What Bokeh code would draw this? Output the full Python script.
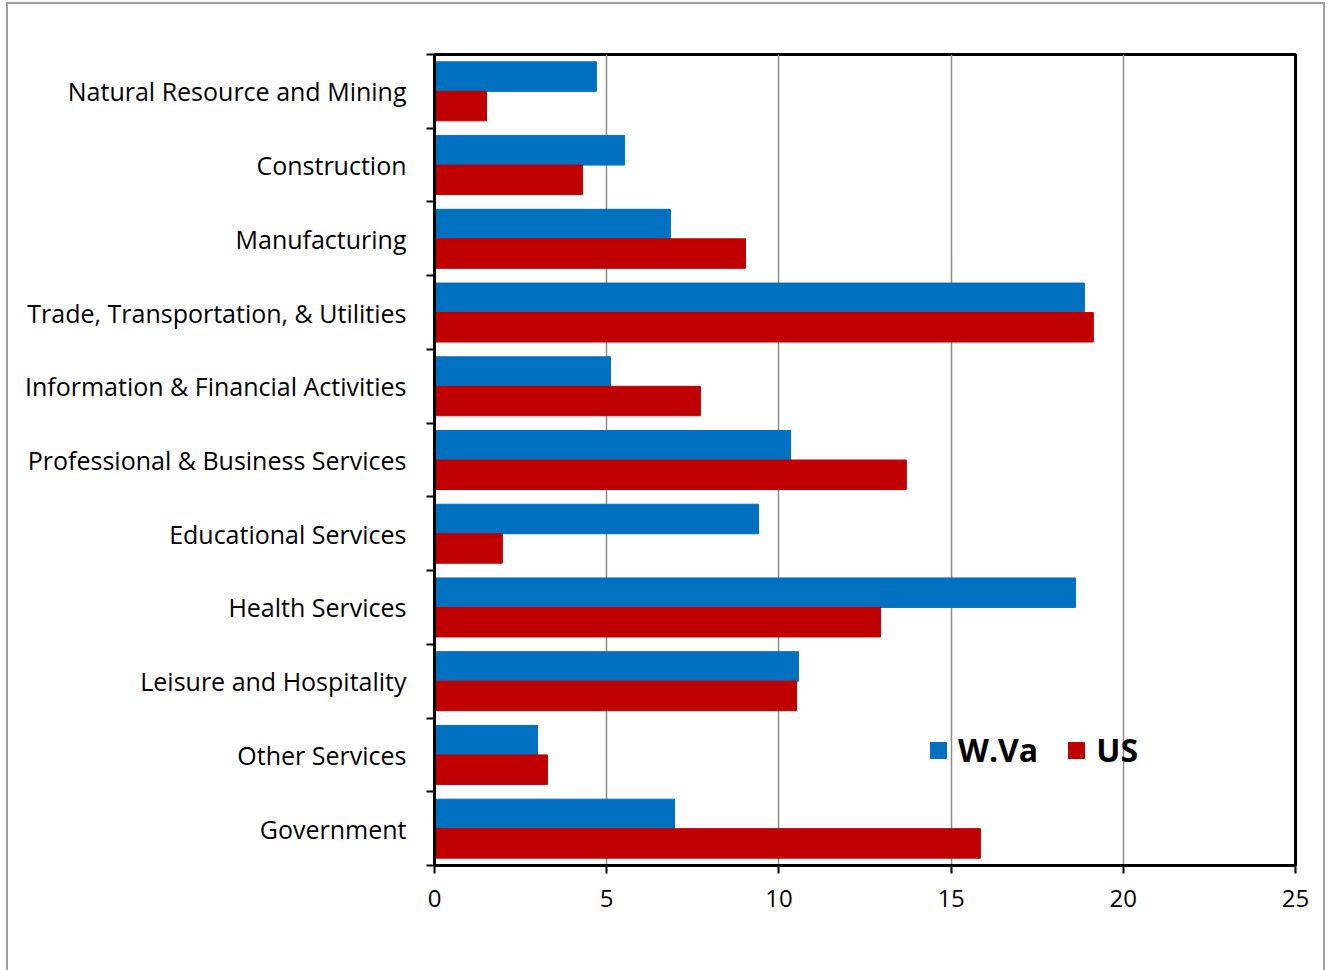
from bokeh.plotting import figure
from bokeh.models import ColumnDataSource, FixedTicker, Legend, LegendItem
from bokeh.embed import file_html
from bokeh.resources import INLINE

# Employment share by industry (percent)
industries = [
    "Natural Resource and Mining",
    "Construction",
    "Manufacturing",
    "Trade, Transportation, & Utilities",
    "Information & Financial Activities",
    "Professional & Business Services",
    "Educational Services",
    "Health Services",
    "Leisure and Hospitality",
    "Other Services",
    "Government",
]
wva = [4.70, 5.52, 6.85, 18.87, 5.11, 10.34, 9.41, 18.61, 10.57, 2.99, 6.97]
us = [1.51, 4.30, 9.03, 19.13, 7.72, 13.70, 1.97, 12.95, 10.51, 3.28, 15.85]
x_ticks = [0, 5, 10, 15, 20, 25]

n = len(industries)
centers = [n - i - 0.5 for i in range(n)]
bar_h = 0.4

src_wva = ColumnDataSource(dict(y=[c + bar_h / 2 for c in centers], right=wva))
src_us = ColumnDataSource(dict(y=[c - bar_h / 2 for c in centers], right=us))

FONT = "Open Sans"

p = figure(
    width=1319, height=968,
    x_range=(0, 25), y_range=(0, n),
    output_backend="svg", toolbar_location=None,
    min_border_left=426, min_border_right=32,
    min_border_top=50, min_border_bottom=107,
    styles={"margin-left": "6px", "margin-top": "2px",
            "border-left": "2px solid #a0a0a0",
            "border-top": "2px solid #a0a0a0",
            "border-right": "2px solid #a0a0a0"},
)

r_wva = p.hbar(y="y", right="right", left=0, height=bar_h, source=src_wva,
               fill_color="#0070C0", line_color="#0070C0")
r_us = p.hbar(y="y", right="right", left=0, height=bar_h, source=src_us,
              fill_color="#C00000", line_color="#C00000")

# frame
p.outline_line_color = "black"
p.outline_line_width = 3
p.background_fill_color = "white"
p.border_fill_color = "white"

# x axis
p.xaxis.ticker = FixedTicker(ticks=x_ticks)
p.xaxis.axis_line_color = "black"
p.xaxis.axis_line_width = 3
p.xaxis.major_tick_line_color = "black"
p.xaxis.major_tick_line_width = 2
p.xaxis.major_tick_out = 8
p.xaxis.major_tick_in = 0
p.xaxis.minor_tick_line_color = None
p.xaxis.major_label_text_font = FONT
p.xaxis.major_label_text_font_size = "24px"
p.xaxis.major_label_text_color = "black"
p.xaxis.major_label_standoff = 16

# y axis: labels at category centres, ticks at category boundaries
p.yaxis.ticker = FixedTicker(ticks=centers, minor_ticks=list(range(n + 1)))
p.yaxis.major_label_overrides = {c: name for c, name in zip(centers, industries)}
p.yaxis.axis_line_color = "black"
p.yaxis.axis_line_width = 3
p.yaxis.major_tick_line_color = None
p.yaxis.major_tick_out = 0
p.yaxis.major_tick_in = 0
p.yaxis.minor_tick_line_color = "black"
p.yaxis.minor_tick_line_width = 2
p.yaxis.minor_tick_out = 8
p.yaxis.minor_tick_in = 0
p.yaxis.major_label_text_font = FONT
p.yaxis.major_label_text_font_size = "25px"
p.yaxis.major_label_text_color = "black"
p.yaxis.major_label_standoff = 20

# grid
p.xgrid.ticker = FixedTicker(ticks=x_ticks)
p.xgrid.grid_line_color = "#8c8c8c"
p.xgrid.grid_line_width = 1.5
p.ygrid.grid_line_color = None

legend = Legend(
    items=[LegendItem(label="W.Va", renderers=[r_wva]),
           LegendItem(label="US", renderers=[r_us])],
    orientation="horizontal",
    location=(494, 94),
    padding=0, margin=0, spacing=28,
    glyph_width=20, glyph_height=20, label_standoff=10,
    label_text_font=FONT, label_text_font_size="32px",
    label_text_font_style="bold", label_text_color="black",
    border_line_color=None, background_fill_alpha=0,
)
p.add_layout(legend, "center")

open("out.html", "w").write(file_html(p, INLINE))
